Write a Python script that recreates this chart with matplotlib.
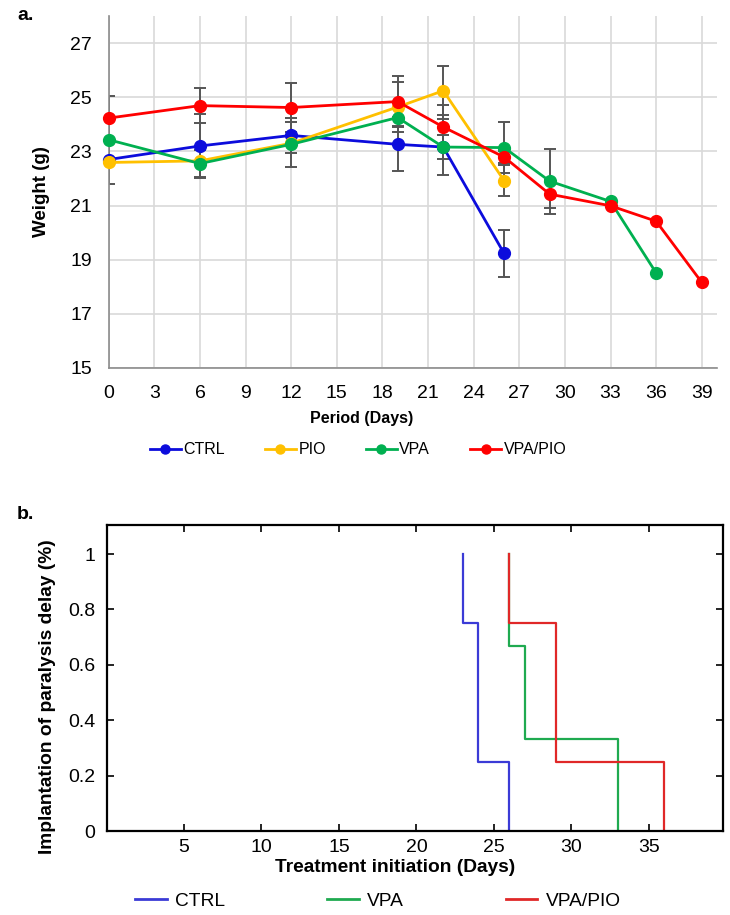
import numpy as np
import matplotlib
matplotlib.use("Agg")
import matplotlib.pyplot as plt
from matplotlib.lines import Line2D

plt.rcParams['font.family'] = ['Liberation Sans', 'DejaVu Sans']

# ---------------- data: panel a ----------------
days = [0, 6, 12, 19, 22, 26, 29, 33, 36, 39]
nan = np.nan
ctrl_w = [22.70, 23.20, 23.59, 23.26, 23.16, 19.23, nan, nan, nan, nan]
pio_w = [22.59, 22.65, 23.30, 24.64, 25.24, 21.92, nan, nan, nan, nan]
vpa_w = [23.43, 22.55, 23.26, 24.25, 23.16, 23.14, 21.90, 21.15, 18.51, nan]
vpapio_w = [24.23, 24.69, 24.62, 24.84, 23.90, 22.79, 21.42, 20.99, 20.42, 18.16]

ctrl_err = [0.0, 1.19, 0.65, 1.00, 1.04, 0.86, nan, nan, nan, nan]
pio_err = [0.0, 0.0, 0.0, 0.92, 0.90, 0.56, nan, nan, nan, nan]
vpa_err = [1.63, 0.50, 0.84, 0.30, 0.43, 0.95, 1.20, 0.0, 0.0, nan]
vpapio_err = [0.0, 0.66, 0.90, 0.93, 0.80, 0.22, 0.52, 0.0, 0.0, 0.0]

series_names = ['CTRL', 'PIO', 'VPA', 'VPA/PIO']
top_colors = ['#0c0cdc', '#ffc000', '#00b050', '#ff0000']
x_ticks_a = [0, 3, 6, 9, 12, 15, 18, 21, 24, 27, 30, 33, 36, 39]
y_ticks_a = [15, 17, 19, 21, 23, 25, 27]

# ---------------- data: panel b ----------------
ctrl_t = [23, 23, 24, 26]
ctrl_s = [1.0, 0.75, 0.25, 0.0]
vpa_t = [26, 26, 27, 33]
vpa_s = [1.0, 0.667, 0.333, 0.0]
vpapio_t = [26, 26, 29, 36]
vpapio_s = [1.0, 0.75, 0.25, 0.0]
bottom_names = ['CTRL', 'VPA', 'VPA/PIO']
bottom_colors = ['#3b3bd6', '#1faa50', '#e02828']
x_ticks_b = [5, 10, 15, 20, 25, 30, 35]
y_ticks_b = [0, 0.2, 0.4, 0.6, 0.8, 1]

W, H = 730, 915
fig = plt.figure(figsize=(W / 100, H / 100), dpi=100)


def fx(px):
    return px / W


def fy(py):
    return 1 - py / H


# ---------------- panel a ----------------
axa = fig.add_axes([fx(108.7), fy(368), fx(717 - 108.7), (368 - 16) / H])
axa.set_xlim(0, 40)
axa.set_ylim(15, 28)
axa.set_xticks(x_ticks_a)
axa.set_yticks(y_ticks_a)
axa.grid(True, color='#d9d9d9', lw=1.2, zorder=0)
axa.set_axisbelow(True)
for s in ['top', 'right']:
    axa.spines[s].set_visible(False)
for s in ['left', 'bottom']:
    axa.spines[s].set_color('#8c8c8c')
    axa.spines[s].set_linewidth(1.2)
axa.tick_params(length=0, labelsize=14, colors='#000000')
axa.tick_params(axis='x', pad=12)
axa.tick_params(axis='y', pad=12)

all_w = [ctrl_w, pio_w, vpa_w, vpapio_w]
all_e = [ctrl_err, pio_err, vpa_err, vpapio_err]
for w, e in zip(all_w, all_e):
    w = np.array(w, float)
    e = np.array(e, float)
    m = ~np.isnan(w) & (np.nan_to_num(e) > 0)
    axa.errorbar(np.array(days)[m], w[m], yerr=e[m], fmt='none',
                 ecolor='#555555', elinewidth=1.4, capsize=4, capthick=1.4,
                 zorder=2)
for w, c, n in zip(all_w, top_colors, series_names):
    w = np.array(w, float)
    m = ~np.isnan(w)
    axa.plot(np.array(days)[m], w[m], color=c, lw=2.0, marker='o',
             markersize=8.5, label=n, zorder=3, clip_on=False)

fig.text(fx(361.5), fy(418), 'Period (Days)', ha='center', va='center',
         fontsize=11.5, fontweight='bold')
fig.text(fx(41.7), fy(192), 'Weight (g)', ha='center', va='center',
         rotation=90, fontsize=13.5, fontweight='bold')
fig.text(fx(17), fy(7), 'a.', ha='left', va='top', fontsize=14,
         fontweight='bold')

handles_a = [Line2D([], [], color=c, lw=2.0, marker='o', markersize=6.5)
             for c in top_colors]
fig.legend(handles_a, series_names, loc='center',
           bbox_to_anchor=(fx(358), fy(450)), ncol=4, frameon=False,
           fontsize=11.5, handlelength=1.95, handletextpad=0.15,
           columnspacing=2.5)

# ---------------- panel b ----------------
axb = fig.add_axes([fx(106.5), fy(831), fx(723.3 - 106.5), (831 - 525) / H])
axb.set_xlim(0, 39.8)
axb.set_ylim(0, 1.105)
axb.set_xticks(x_ticks_b)
axb.set_yticks(y_ticks_b)
axb.set_yticklabels(['0', '0.2', '0.4', '0.6', '0.8', '1'])
for s in axb.spines.values():
    s.set_linewidth(1.6)
    s.set_color('black')
axb.tick_params(direction='in', length=5, width=1.2, top=True, right=True,
                labelsize=14)
axb.tick_params(axis='y', pad=8)
axb.tick_params(axis='x', pad=6)

for t, s_, c, n in zip([ctrl_t, vpa_t, vpapio_t], [ctrl_s, vpa_s, vpapio_s],
                       bottom_colors, bottom_names):
    axb.step(t, s_, where='post', color=c, lw=1.6, label=n)

fig.text(fx(395), fy(868), 'Treatment initiation (Days)', ha='center',
         va='center', fontsize=13.8, fontweight='bold')
fig.text(fx(48), fy(696.5), 'Implantation of paralysis delay (%)',
         ha='center', va='center', rotation=90, fontsize=13.8,
         fontweight='bold')
fig.text(fx(17), fy(506), 'b.', ha='left', va='top', fontsize=14,
         fontweight='bold')

handles_b = [Line2D([], [], color=c, lw=2.0) for c in bottom_colors]
fig.legend(handles_b, bottom_names, loc='center',
           bbox_to_anchor=(fx(378), fy(901)), ncol=3, frameon=False,
           fontsize=13.8, handlelength=1.65, handletextpad=0.45,
           columnspacing=5.3)

fig.savefig('out.png', dpi=100)
